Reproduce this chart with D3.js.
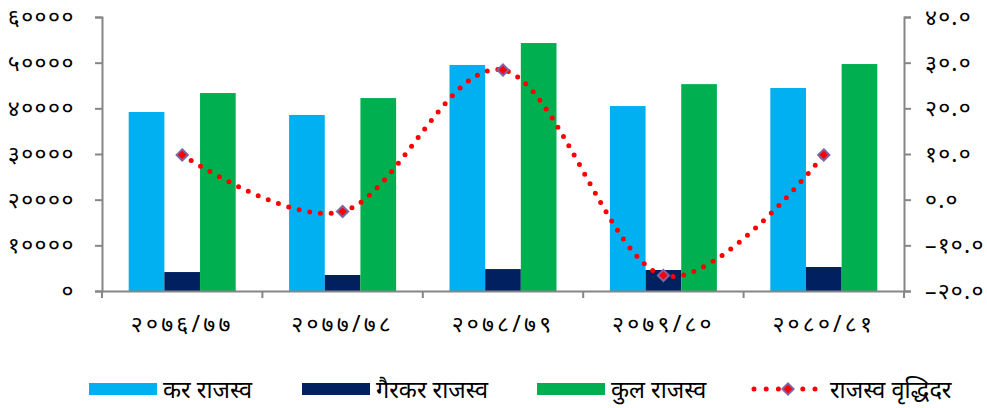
<!DOCTYPE html>
<html><head><meta charset="utf-8">
<script src="https://cdn.jsdelivr.net/npm/d3@7"></script>
<style>body{margin:0;background:#fff}svg{display:block}text{font-family:"Noto Sans","Noto Sans Devanagari",Mangal,sans-serif}</style>
</head><body><svg id="c" width="987" height="408"></svg>
<script>
const categories = ["२०७६/७७","२०७७/७८","२०७८/७९","२०७९/८०","२०८०/८१"];
const seriesNames = ["कर राजस्व","गैरकर राजस्व","कुल राजस्व"];
const karRajasva = [39200, 38550, 49500, 40500, 44450];
const gairkarRajasva = [4150, 3500, 4800, 4600, 5250];
const kulRajasva = [43350, 42250, 54300, 45300, 49700];
const growth = [9.8, -2.6, 28.4, -16.6, 9.8];
const growthName = "राजस्व वृद्धिदर";
const leftTicks = [0,10000,20000,30000,40000,50000,60000];
const rightTicks = [-20,-10,0,10,20,30,40];
const colors = ["#00B0F0","#002060","#00B050"];

const dev = s => String(s).replace(/[0-9]/g, d => "०१२३४५६७८९"[+d]);
const svg = d3.select("#c");
const L=102, R=904, T=17, B=291;
const x = d3.scaleBand().domain(categories).range([L,R]);
const yL = d3.scaleLinear().domain([0,60000]).range([B,T]);
const yR = d3.scaleLinear().domain([-20,40]).range([B,T]);
const inner = d3.scaleBand().domain([0,1,2]).range([0,107]);
const series = [karRajasva,gairkarRajasva,kulRajasva];
const axisColor = "#868686";

series.forEach((vals,si)=>{
  svg.append("g").selectAll("rect").data(vals).join("rect")
    .attr("x",(d,i)=>x(categories[i])+x.bandwidth()/2-53.5+inner(si))
    .attr("width",inner.bandwidth())
    .attr("y",d=>yL(d)).attr("height",d=>B-yL(d))
    .attr("fill",colors[si]);
});

function styleAxis(g){
  g.selectAll("path,line").attr("stroke",axisColor).attr("stroke-width",2);
  g.selectAll("text").attr("fill","#000").attr("font-size",23);
}
const gl = svg.append("g").attr("transform",`translate(${L},0)`)
  .call(d3.axisLeft(yL).tickValues(leftTicks).tickSize(7).tickSizeOuter(7).tickPadding(20).tickFormat(d=>dev(d)));
styleAxis(gl);
gl.selectAll("text").attr("letter-spacing",1.5);
const gr = svg.append("g").attr("transform",`translate(${R},0)`)
  .call(d3.axisRight(yR).tickValues(rightTicks).tickSize(7).tickSizeOuter(7).tickPadding(14).tickFormat(d=>(d<0?"–":"")+dev(Math.abs(d).toFixed(1))));
styleAxis(gr);
gr.selectAll("text").attr("letter-spacing",1.2);
const gb = svg.append("g").attr("transform",`translate(0,${B})`)
  .call(d3.axisBottom(x).tickSize(0).tickSizeOuter(0).tickPadding(25));
styleAxis(gb);
gb.selectAll("text").attr("letter-spacing",3.2);
svg.append("g").selectAll("line").data(d3.range(categories.length+1)).join("line")
  .attr("x1",i=>L+i*x.step()).attr("x2",i=>L+i*x.step())
  .attr("y1",B).attr("y2",B+7).attr("stroke",axisColor).attr("stroke-width",2);

const line = d3.line().x((d,i)=>x(categories[i])+x.bandwidth()/2).y(d=>yR(d)).curve(d3.curveCardinal.tension(0));
svg.append("path").datum(growth).attr("d",line).attr("fill","none")
  .attr("stroke","#FF0000").attr("stroke-width",5).attr("stroke-linecap","round").attr("stroke-dasharray","0 10.8");
const diamond = d3.symbol().type(d3.symbolDiamond2).size(80);
svg.append("g").selectAll("path").data(growth).join("path")
  .attr("transform",(d,i)=>`translate(${x(categories[i])+x.bandwidth()/2},${yR(d)})`)
  .attr("d",diamond).attr("fill","#FF0000").attr("stroke","#8064A2").attr("stroke-width",2);

const lg = svg.append("g");
const lx = [89,302,537];
seriesNames.forEach((n,i)=>{
  lg.append("rect").attr("x",lx[i]).attr("y",383).attr("width",68).attr("height",12).attr("fill",colors[i]);
  lg.append("text").attr("x",lx[i]+74).attr("y",398).attr("font-size",23.5).text(n);
});
lg.append("path").attr("d","M754,389L822,389").attr("stroke","#FF0000").attr("stroke-width",5)
  .attr("stroke-linecap","round").attr("stroke-dasharray","0 12.2");
lg.append("path").attr("transform","translate(788,389)").attr("d",diamond).attr("fill","#FF0000").attr("stroke","#8064A2").attr("stroke-width",2);
lg.append("text").attr("x",830).attr("y",398).attr("font-size",23.5).text(growthName);
</script></body></html>
